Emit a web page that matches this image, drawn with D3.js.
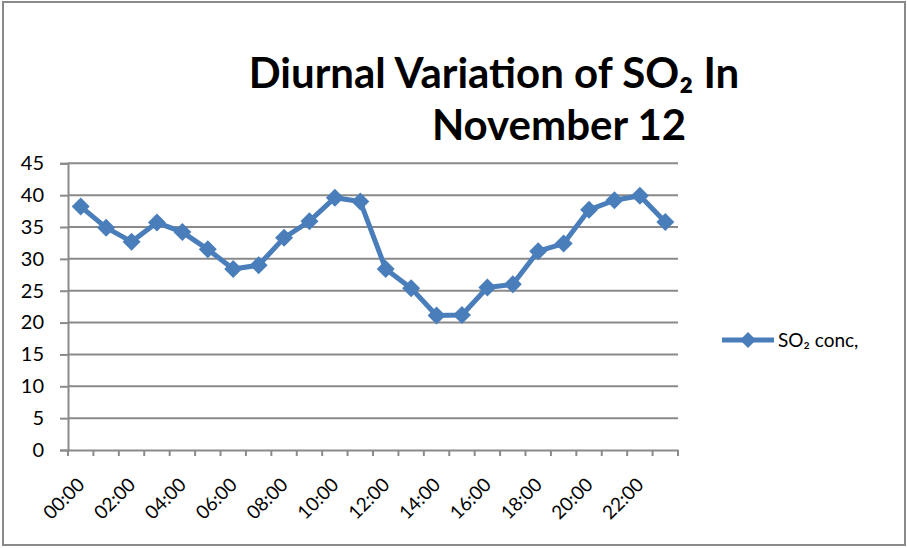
<!DOCTYPE html>
<html><head><meta charset="utf-8">
<script src="https://cdn.jsdelivr.net/npm/d3@7"></script>
<style>body{margin:0;background:#fff}svg{display:block}</style>
</head><body>
<svg id="c" width="907" height="548"></svg>
<script>
const hours = ["00:00","01:00","02:00","03:00","04:00","05:00","06:00","07:00","08:00","09:00","10:00","11:00","12:00","13:00","14:00","15:00","16:00","17:00","18:00","19:00","20:00","21:00","22:00","23:00"];
const so2 = [38.2,34.9,32.7,35.7,34.2,31.5,28.4,29.0,33.3,35.9,39.6,39.0,28.4,25.4,21.1,21.2,25.5,26.0,31.2,32.4,37.7,39.2,39.9,35.8];
const yTicks = [0,5,10,15,20,25,30,35,40,45];
const seriesName = "SO\u2082 conc,";

const svg = d3.select("#c");
const font = "Lato, 'Open Sans', sans-serif";
const blue = "#4a7ebb";
const grid = "#8a8a8a";

svg.append("rect").attr("x",3).attr("y",2).attr("width",902).attr("height",543)
  .attr("fill","#fff").attr("stroke","#8a8a8a").attr("stroke-width",2);

const L=68, R=678, T=163.3, B=450;
const x = d3.scaleBand().domain(hours).range([L,R]).padding(0);
const y = d3.scaleLinear().domain([0,45]).range([B,T]);

// gridlines
svg.append("g").selectAll("line").data(yTicks.slice(1)).join("line")
  .attr("x1",L).attr("x2",R).attr("y1",d=>y(d)).attr("y2",d=>y(d))
  .attr("stroke",grid).attr("stroke-width",2);

// y axis
const ya = svg.append("g").attr("transform",`translate(${L},0)`)
  .call(d3.axisLeft(y).tickValues(yTicks).tickSize(8).tickPadding(16));
ya.select(".domain").attr("stroke",grid).attr("stroke-width",2);
ya.selectAll(".tick line").attr("stroke",grid).attr("stroke-width",2);
ya.selectAll("text").attr("font-family",font).attr("font-size",20).attr("fill","#000");

// x axis
const xa = svg.append("g").attr("transform",`translate(0,${B})`)
  .call(d3.axisBottom(x).tickValues([]).tickSize(0));
xa.select(".domain").attr("stroke",grid).attr("stroke-width",2);
const bounds = hours.map(h=>x(h)).concat([R]);
xa.selectAll(".bt").data(bounds).join("line").attr("class","bt")
  .attr("x1",d=>d).attr("x2",d=>d).attr("y1",0).attr("y2",6)
  .attr("stroke",grid).attr("stroke-width",2);
xa.selectAll(".lbl").data(hours.filter((h,i)=>i%2===0)).join("text").attr("class","lbl")
  .attr("transform",d=>`translate(${x(d)+x.bandwidth()/2+5},${36}) rotate(-45)`)
  .attr("text-anchor","end")
  .attr("font-family",font).attr("font-size",19).attr("fill","#000").text(d=>d);

// line
const line = d3.line().x((d,i)=>x(hours[i])+x.bandwidth()/2).y(d=>y(d));
svg.append("path").datum(so2).attr("d",line).attr("fill","none")
  .attr("stroke",blue).attr("stroke-width",5).attr("stroke-linejoin","round");
const diamond = "M0,-9L9,0L0,9L-9,0Z";
svg.append("g").selectAll("path").data(so2).join("path")
  .attr("transform",(d,i)=>`translate(${x(hours[i])+x.bandwidth()/2},${y(d)})`)
  .attr("d",diamond).attr("fill",blue);

// title
const t = svg.append("text").attr("font-family",font).attr("font-weight","bold")
  .attr("font-size",42).attr("fill","#000");
t.append("tspan").attr("x",494).attr("y",88).attr("text-anchor","middle")
  .text("Diurnal Variation of SO\u2082 In");
t.append("tspan").attr("x",559).attr("y",140).attr("text-anchor","middle").text("November 12");

// legend
const lg = svg.append("g").attr("transform","translate(722,340)");
lg.append("line").attr("x1",0).attr("x2",52).attr("y1",0).attr("y2",0)
  .attr("stroke",blue).attr("stroke-width",5);
lg.append("path").attr("d","M0,-8L8,0L0,8L-8,0Z").attr("transform","translate(26,0)").attr("fill",blue);
lg.append("text").attr("x",56).attr("y",7).attr("font-family",font).attr("font-size",19)
  .attr("fill","#000").text(seriesName);
</script>
</body></html>
